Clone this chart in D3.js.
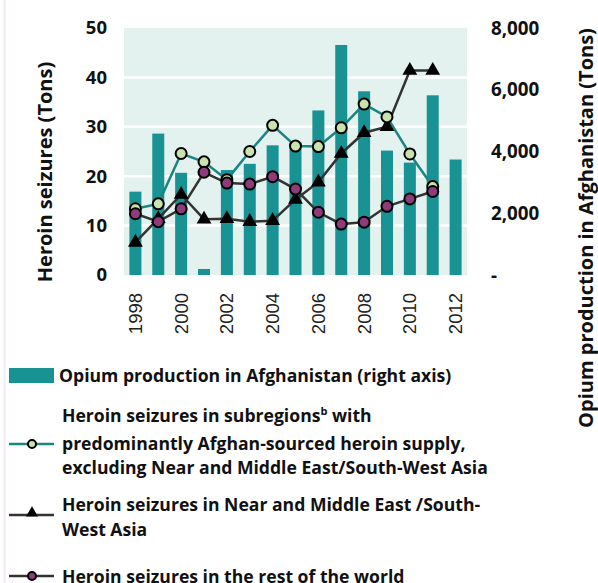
<!DOCTYPE html>
<html>
<head>
<meta charset="utf-8">
<script src="https://cdn.jsdelivr.net/npm/d3@7"></script>
<style>
  body { margin: 0; background: #fff; }
  svg { display: block; }
  .bold { font-family: "Open Sans", sans-serif; font-weight: bold; fill: #111; }
  .yr { font-family: "Liberation Sans", Arial, sans-serif; fill: #222; }
</style>
</head>
<body>
<script>
//chart values
var years = [1998, 1999, 2000, 2001, 2002, 2003, 2004, 2005, 2006, 2007, 2008, 2009, 2010, 2011, 2012];
var opium = [2700, 4580, 3310, 195, 3400, 3600, 4200, 4300, 5330, 7450, 5950, 4030, 3640, 5820, 3740];
var afghanSourced = [13.4, 14.4, 24.6, 22.9, 19.3, 25.0, 30.3, 26.1, 26.0, 29.8, 34.6, 32.0, 24.5, 17.9];
var nearMiddleEast = [6.6, 11.4, 16.3, 11.3, 11.4, 10.8, 11.0, 15.3, 18.8, 24.6, 28.8, 30.0, 41.4, 41.4];
var restOfWorld = [12.4, 10.8, 13.4, 20.8, 18.6, 18.4, 19.9, 17.4, 12.7, 10.3, 10.7, 13.9, 15.4, 16.9];
var leftTicks = [0, 10, 20, 30, 40, 50];
var rightTicks = [0, 2000, 4000, 6000, 8000];
var yearTicks = [1998, 2000, 2002, 2004, 2006, 2008, 2010, 2012];

(function(){

var width = 598, height = 583;
var plotLeft = 124, plotRight = 467, plotTop = 28, plotBottom = 275;

var barColor = "#199294",
    greenLine = "#1b8584",
    greenFill = "#c9e2ae",
    purple = "#8e3b7c",
    dark = "#333";

var svg = d3.select("body").append("svg")
    .attr("width", width)
    .attr("height", height);

//faint edge line on the left
svg.append("line")
    .attr("x1", 4.5).attr("x2", 4.5)
    .attr("y1", 0).attr("y2", height)
    .attr("stroke", "#f3e9f3").attr("stroke-width", 2);

var x = d3.scaleBand()
    .domain(years)
    .range([plotLeft, plotRight])
    .paddingInner(0.475)
    .paddingOuter(0.236);

var yL = d3.scaleLinear().domain([0, 50]).range([plotBottom, plotTop]);
var yR = d3.scaleLinear().domain([0, 8000]).range([plotBottom, plotTop]);

function cx(d, i){ return x(years[i]) + x.bandwidth() / 2; }

//plot background and grid
svg.append("rect")
    .attr("x", plotLeft).attr("y", plotTop)
    .attr("width", plotRight - plotLeft).attr("height", plotBottom - plotTop)
    .attr("fill", "#e3f2ee");

svg.append("g").selectAll("line")
    .data(leftTicks.filter(function(t){ return t > 0 && t < 50; }))
    .enter().append("line")
    .attr("x1", plotLeft).attr("x2", plotRight)
    .attr("y1", function(d){ return yL(d); })
    .attr("y2", function(d){ return yL(d); })
    .attr("stroke", "#fff").attr("stroke-width", 2.5);

//bars
svg.append("g").selectAll("rect")
    .data(opium)
    .enter().append("rect")
    .attr("x", function(d, i){ return x(years[i]); })
    .attr("width", x.bandwidth())
    .attr("y", function(d){ return yR(d); })
    .attr("height", function(d){ return yR(0) - yR(d); })
    .attr("fill", barColor);

//lines
function drawSeries(values, stroke){
    var line = d3.line()
        .x(cx)
        .y(function(d){ return yL(d); });
    svg.append("path")
        .datum(values)
        .attr("d", line)
        .attr("fill", "none")
        .attr("stroke", stroke)
        .attr("stroke-width", 2.5);
}
drawSeries(afghanSourced, greenLine);
drawSeries(nearMiddleEast, dark);
drawSeries(restOfWorld, dark);

var tri = d3.symbol().type(d3.symbolTriangle).size(95);

svg.append("g").selectAll("path")
    .data(nearMiddleEast)
    .enter().append("path")
    .attr("d", tri)
    .attr("transform", function(d, i){ return "translate(" + cx(d, i) + "," + yL(d) + ")"; })
    .attr("fill", "#000");

svg.append("g").selectAll("circle")
    .data(afghanSourced)
    .enter().append("circle")
    .attr("cx", cx)
    .attr("cy", function(d){ return yL(d); })
    .attr("r", 5.5)
    .attr("fill", greenFill)
    .attr("stroke", "#000").attr("stroke-width", 2);

svg.append("g").selectAll("circle")
    .data(restOfWorld)
    .enter().append("circle")
    .attr("cx", cx)
    .attr("cy", function(d){ return yL(d); })
    .attr("r", 5.5)
    .attr("fill", purple)
    .attr("stroke", "#000").attr("stroke-width", 2);

//left axis
var axL = svg.append("g")
    .attr("transform", "translate(" + (plotLeft - 17) + ",0)")
    .call(d3.axisLeft(yL).tickValues(leftTicks).tickSize(0).tickPadding(0));
axL.select(".domain").remove();
axL.attr("font-family", null).attr("font-size", null);
axL.selectAll("text").attr("class", "bold").style("font-size", "18.5px");

//right axis
var axR = svg.append("g")
    .attr("transform", "translate(" + (plotRight + 24) + ",0)")
    .call(d3.axisRight(yR).tickValues(rightTicks).tickSize(0).tickPadding(0)
        .tickFormat(function(d){ return d === 0 ? "-" : d3.format(",")(d); }));
axR.select(".domain").remove();
axR.attr("font-family", null).attr("font-size", null);
axR.selectAll("text").attr("class", "bold").style("font-size", "18.8px");

//year labels
var axX = svg.append("g")
    .attr("transform", "translate(0," + (plotBottom + 18) + ")")
    .call(d3.axisBottom(x).tickValues(yearTicks).tickSize(0).tickPadding(0));
axX.select(".domain").remove();
axX.attr("font-family", null).attr("font-size", null);
axX.selectAll("text")
    .attr("class", "yr")
    .style("font-size", "18.5px")
    .attr("text-anchor", "end")
    .attr("dy", "0.35em")
    .attr("y", 0)
    .attr("transform", "rotate(-90)");

//axis titles
svg.append("text")
    .attr("class", "bold")
    .attr("transform", "translate(52,172) rotate(-90)")
    .attr("text-anchor", "middle")
    .style("font-size", "20px")
    .text("Heroin seizures (Tons)");

svg.append("text")
    .attr("class", "bold")
    .attr("transform", "translate(593,228) rotate(-90)")
    .attr("text-anchor", "middle")
    .style("font-size", "20px")
    .text("Opium production in Afghanistan (Tons)");

//legend
var lg = svg.append("g");
lg.append("rect")
    .attr("x", 9).attr("y", 368).attr("width", 45).attr("height", 15)
    .attr("fill", barColor);
lg.append("text").attr("class", "bold").style("font-size", "17.6px")
    .attr("x", 59).attr("y", 382)
    .text("Opium production in Afghanistan (right axis)");

function legendLine(y, stroke){
    lg.append("line")
        .attr("x1", 9).attr("x2", 54)
        .attr("y1", y).attr("y2", y)
        .attr("stroke", stroke).attr("stroke-width", 2.5);
}

legendLine(444, greenLine);
lg.append("circle").attr("cx", 32).attr("cy", 444).attr("r", 4)
    .attr("fill", greenFill).attr("stroke", "#000").attr("stroke-width", 2);
var t2 = lg.append("text").attr("class", "bold").style("font-size", "17.6px")
    .attr("x", 62).attr("y", 422);
t2.append("tspan").text("Heroin seizures in subregions");
t2.append("tspan").attr("dy", -7).style("font-size", "11px").text("b");
t2.append("tspan").attr("dy", 7).text(" with");
lg.append("text").attr("class", "bold").style("font-size", "17.6px")
    .attr("x", 62).attr("y", 450).text("predominantly Afghan-sourced heroin supply,");
lg.append("text").attr("class", "bold").style("font-size", "17.6px")
    .attr("x", 62).attr("y", 474).text("excluding Near and Middle East/South-West Asia");

legendLine(515, dark);
lg.append("path").attr("d", d3.symbol().type(d3.symbolTriangle).size(60))
    .attr("transform", "translate(32,513)").attr("fill", "#000");
lg.append("text").attr("class", "bold").style("font-size", "17.6px")
    .attr("x", 62).attr("y", 511).text("Heroin seizures in Near and Middle East /South-");
lg.append("text").attr("class", "bold").style("font-size", "17.6px")
    .attr("x", 62).attr("y", 536).text("West Asia");

legendLine(576, dark);
lg.append("circle").attr("cx", 32).attr("cy", 576).attr("r", 4)
    .attr("fill", purple).attr("stroke", "#000").attr("stroke-width", 2);
lg.append("text").attr("class", "bold").style("font-size", "17.6px")
    .attr("x", 62).attr("y", 583).text("Heroin seizures in the rest of the world");

})();
</script>
</body>
</html>
